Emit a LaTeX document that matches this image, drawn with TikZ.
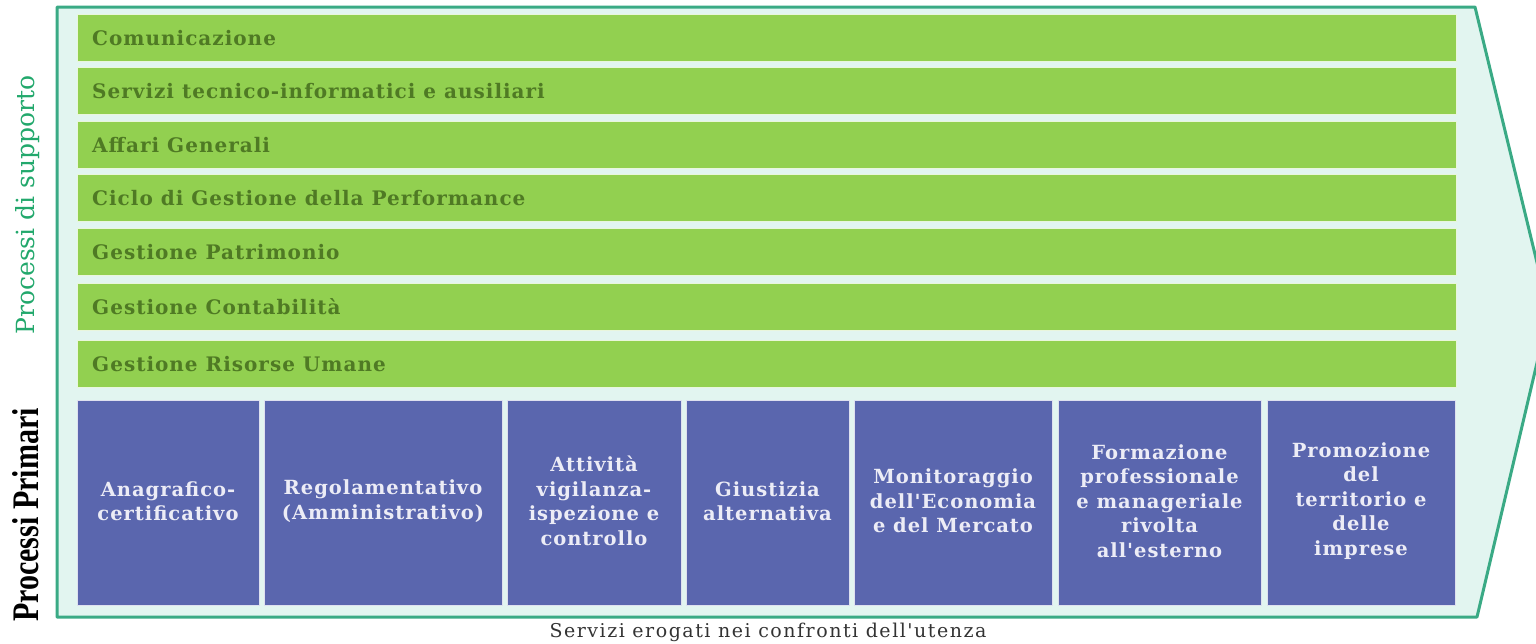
\documentclass[tikz,border=0pt]{standalone}
\usepackage{fontspec}
\usepackage{graphicx}
\setmainfont{DejaVu Serif}
\newfontfamily\timesf{Liberation Serif}
\newfontfamily\widef[LetterSpace=5]{DejaVu Serif}
\newfontfamily\widerf[LetterSpace=8]{DejaVu Serif}
\definecolor{frame}{HTML}{3AAA85}
\definecolor{mint}{HTML}{E2F5F0}
\definecolor{barg}{HTML}{92D050}
\definecolor{bartxt}{HTML}{4F7A24}
\definecolor{boxb}{HTML}{5A66AE}
\definecolor{boxtxt}{HTML}{ECECF6}
\definecolor{suptxt}{HTML}{22A86C}
\begin{document}
\begin{tikzpicture}[x=1pt,y=-1pt,
  bar/.style={fill=barg,draw=white!80!barg,line width=0.8pt},
  bartext/.style={anchor=west,text=bartxt,font=\widef\bfseries\fontsize{20}{22}\selectfont,inner sep=0pt},
  pbox/.style={fill=boxb,draw=white!80!boxb,line width=0.8pt},
  ptext/.style={align=center,text=boxtxt,font=\widef\bfseries\fontsize{19.5}{24.5}\selectfont,inner sep=0pt}]
\useasboundingbox (0,0) rectangle (1536,643);
\clip (0,0) rectangle (1536,643);
\draw[frame,fill=mint,line width=3pt,line join=round] (57,7) -- (1475,7) -- (1549,312) -- (1477,617) -- (57,617) -- cycle;
% green bars
\foreach \t/\y [count=\i] in {Comunicazione/14,Servizi tecnico-informatici e ausiliari/67,Affari Generali/121,Ciclo di Gestione della Performance/174,Gestione Patrimonio/228,Gestione Contabilità/283,Gestione Risorse Umane/340}{
  \node[bar,inner sep=0pt,minimum width=1379pt,minimum height=47pt,anchor=north west] (b\i) at (77,\y) {};
  \node[bartext] (bt\i) at ([xshift=15pt]b\i.west) {\t};
}
% blue boxes
\foreach \xa/\xb/\t [count=\i] in {77/259/{Anagrafico-\\certificativo},264/502/{Regolamentativo\\(Amministrativo)},507/681/{Attività\\vigilanza-\\ispezione e\\controllo},686/849/{Giustizia\\alternativa},854/1052/{Monitoraggio\\dell'Economia\\e del Mercato},1058/1261/{Formazione\\professionale\\e manageriale\\rivolta\\all'esterno},1267/1455/{Promozione\\del\\territorio e\\delle\\imprese}}{
  \draw[pbox] (\xa,400) rectangle (\xb,605);
  \node[ptext] (p\i) at ({(\xa+\xb)/2},501) {\t};
}
\node[rotate=90,text=suptxt,font=\fontsize{25}{28}\selectfont] (sup) at (28,205) {Processi di supporto};
\node[rotate=90,text=black,font=\timesf\bfseries\fontsize{30}{32}\selectfont,inner sep=0pt] (pri) at (26,515) {\scalebox{1}[1.25]{Processi Primari}};
\node[text=black!80,font=\widerf\fontsize{19}{20}\selectfont] (serv) at (768,632) {Servizi erogati nei confronti dell'utenza};
\end{tikzpicture}
\end{document}
